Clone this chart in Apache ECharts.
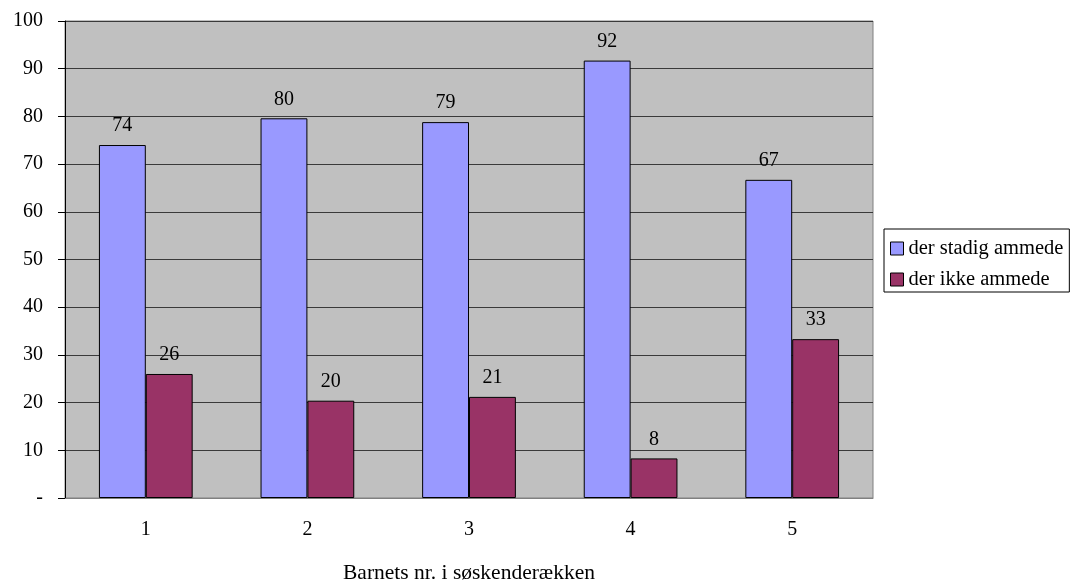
<!DOCTYPE html>
<html>
<head>
<meta charset="utf-8">
<script src="https://cdn.jsdelivr.net/npm/echarts@6/dist/echarts.min.js"></script>
<style>html,body{margin:0;padding:0;background:#fff}#c{width:1074px;height:584px}</style>
</head>
<body>
<div id="c"></div>
<script>
var categories = ['1', '2', '3', '4', '5'];
var seriesNames = ['der stadig ammede', 'der ikke ammede'];
var stadig = [74.0, 79.6, 78.8, 91.7, 66.7];
var ikke = [26.0, 20.4, 21.2, 8.3, 33.3];
var xTitle = 'Barnets nr. i søskenderækken';

var FONT = '"Liberation Serif", "Times New Roman", serif';
var FS = 20;
var chart = echarts.init(document.getElementById('c'));
function lbl() {
  return { show: true, position: 'top', distance: 9, color: '#000', fontFamily: FONT, fontSize: FS,
    formatter: function (p) { return Math.round(p.value); } };
}
chart.setOption({
  animation: false,
  textStyle: { fontFamily: FONT },
  grid: { left: 65, right: 201, top: 21, bottom: 86, outerBoundsMode: 'none', containLabel: false,
    show: true, backgroundColor: '#c0c0c0', borderColor: '#808080', borderWidth: 1 },
  legend: {
    orient: 'vertical', left: 884, top: 229,
    data: seriesNames,
    icon: 'rect', itemWidth: 13, itemHeight: 13, itemGap: 10,
    borderColor: '#000', borderWidth: 1, backgroundColor: '#fff',
    padding: [9, 6, 2, 6],
    textStyle: { fontFamily: FONT, fontSize: 20.5, lineHeight: 20, color: '#000' },
    itemStyle: { borderColor: '#000', borderWidth: 1 }
  },
  xAxis: {
    type: 'category', data: categories,
    axisLine: { show: true, lineStyle: { color: '#808080' } },
    axisTick: { show: false },
    axisLabel: { color: '#000', fontFamily: FONT, fontSize: FS, margin: 22 },
    name: xTitle, nameLocation: 'middle', nameGap: 64,
    nameTextStyle: { color: '#000', fontFamily: FONT, fontSize: 21.5 }
  },
  yAxis: {
    type: 'value', min: 0, max: 100, interval: 10,
    axisLine: { show: true, lineStyle: { color: '#000' } },
    axisTick: { show: true, inside: false, length: 7, lineStyle: { color: '#000' } },
    axisLabel: { color: '#000', fontFamily: FONT, fontSize: FS, margin: 22,
      formatter: function (v) { return v === 0 ? '-' : v; } },
    splitLine: { show: true, lineStyle: { color: '#3a3a3a', width: 1 } }
  },
  series: [
    { name: seriesNames[0], type: 'bar', data: stadig, barGap: '0%', barCategoryGap: '42%',
      itemStyle: { color: '#9999ff', borderColor: '#000', borderWidth: 1 }, label: lbl() },
    { name: seriesNames[1], type: 'bar', data: ikke, barGap: '0%', barCategoryGap: '42%',
      itemStyle: { color: '#993366', borderColor: '#000', borderWidth: 1 }, label: lbl() }
  ]
});
</script>
</body>
</html>
